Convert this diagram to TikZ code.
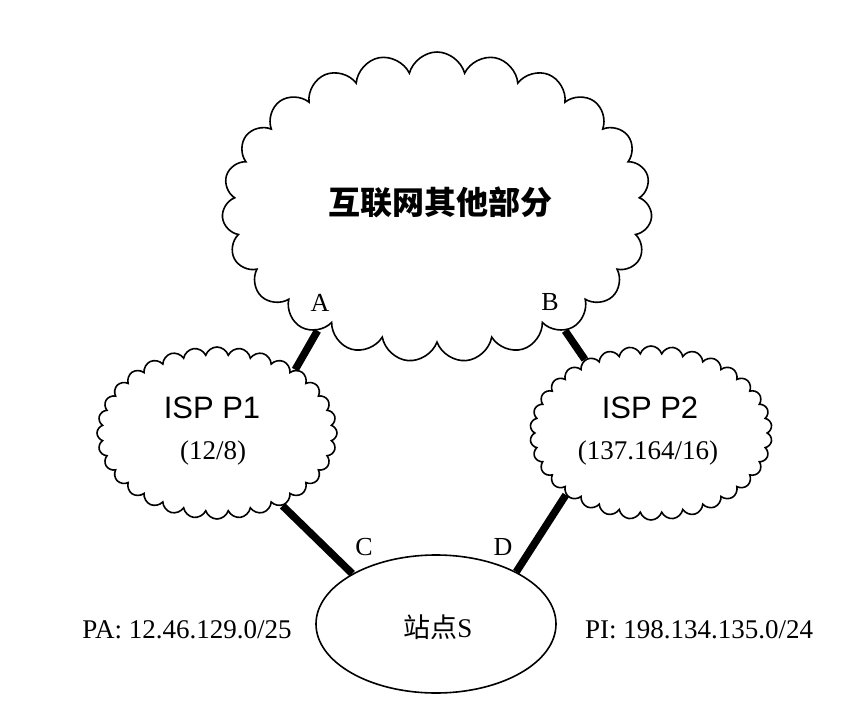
\documentclass[tikz,border=0pt]{standalone}
\usepackage{fontspec}
\setmainfont{Liberation Serif}
\newfontfamily\sans{Liberation Sans}
\newfontfamily\cjk{Noto Sans CJK SC}
\usetikzlibrary{shapes.symbols,shapes.geometric}
\begin{document}
\begin{tikzpicture}[x=1pt,y=-1pt,
  cloudshape/.style={cloud, draw=black, line width=1.6pt, fill=white, cloud ignores aspect, inner sep=0pt},
  link/.style={line width=7.5pt},
  lbl/.style={font=\fontsize{26}{28}\selectfont, inner sep=0pt},
  addr/.style={font=\fontsize{27}{30}\selectfont, inner sep=0pt}]
\useasboundingbox (0,0) rectangle (860,715);
\node[cloudshape, cloud puffs=23, cloud puff arc=150, minimum width=430pt, minimum height=310pt] (net) at (437,207) {};
\node[font=\cjk\bfseries\fontsize{32}{34}\selectfont, inner sep=0pt] (nettext) at (440,202) {互联网其他部分};
\node[cloudshape, cloud puffs=32, cloud puff arc=145, minimum width=240pt, minimum height=172pt] (p1) at (217,433) {};
\node[font=\sans\fontsize{31}{33}\selectfont, inner sep=0pt] (p1name) at (212,408) {ISP P1};
\node[addr] (p1pre) at (213,453) {(12/8)};
\node[cloudshape, cloud puffs=34, cloud puff arc=145, minimum width=242pt, minimum height=174pt] (p2) at (651,433) {};
\node[font=\sans\fontsize{31}{33}\selectfont, inner sep=0pt] (p2name) at (650,408) {ISP P2};
\node[addr] (p2pre) at (648,453) {(137.164/16)};
\node[ellipse, draw=black, line width=1.6pt, minimum width=240pt, minimum height=138pt, inner sep=0pt] (site) at (436,624) {};
\node[inner sep=0pt, font=\fontsize{27}{30}\selectfont] (sitetext) at (438,627) {{\cjk 站点}S};
\draw[link] (net.226) -- (p1.39);
\draw[link] (net.316) -- (p2.132);
\draw[link] (p1.-48) -- (site.149);
\draw[link] (p2.216) -- (site.33);
\node[lbl] (la) at (320,303) {A};
\node[lbl] (lb) at (550,302) {B};
\node[lbl] (lc) at (364,547) {C};
\node[lbl] (ld) at (503,547) {D};
\node[addr] (pa) at (187,630) {PA: 12.46.129.0/25};
\node[addr] (pi) at (699,630) {PI: 198.134.135.0/24};
\end{tikzpicture}
\end{document}
